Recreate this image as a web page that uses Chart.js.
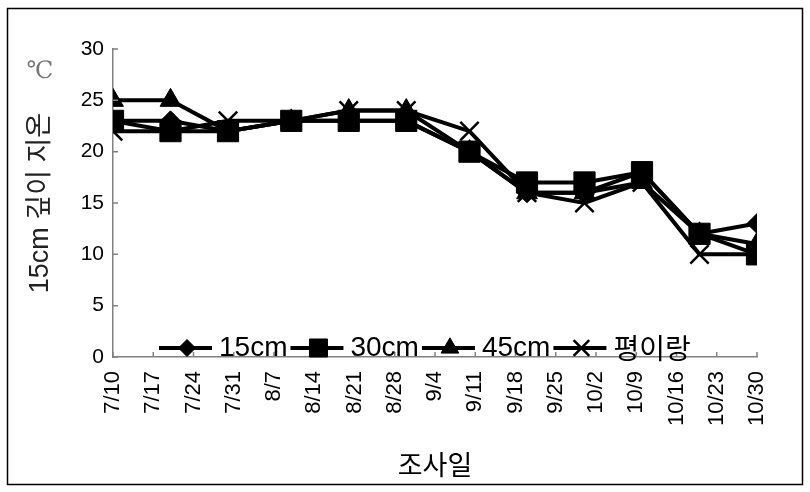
<!DOCTYPE html>
<html>
<head>
<meta charset="utf-8">
<script src="https://cdn.jsdelivr.net/npm/chart.js@4/dist/chart.umd.min.js"></script>
<style>
  html, body { margin: 0; padding: 0; background: #fff; }
  #wrap { width: 810px; height: 492px; }
</style>
</head>
<body>
<div id="wrap"><canvas id="graf"></canvas></div>
<script>
    // 조사일 (10일 간격)
    const dias = ['7/10', '7/20', '7/30', '8/10', '8/20', '8/30', '9/10', '9/20', '9/30', '10/10', '10/20', '10/30'];

    const s15 = [23, 23, 22, 23, 23, 23, 20, 16, 16, 18, 12, 13];
    const s30 = [23, 22, 22, 23, 23, 23, 20, 17, 17, 18, 12, 10];
    const s45 = [25, 25, 22, 23, 24, 24, 20, 16, 16, 17, 12, 11];
    const sPy = [22, 22, 23, 23, 24, 24, 22, 16, 15, 17, 10, 10];

    const nomes = ['15cm', '30cm', '45cm', '평이랑'];
    const yTicks = [0, 5, 10, 15, 20, 25, 30];

    // dia 0 = 7/10
    const base = new Date(2009, 6, 10);
    function diaNum(s) {
      const [m, d] = s.split('/').map(Number);
      return Math.round((new Date(2009, m - 1, d) - base) / 86400000);
    }
    function rotulo(n) {
      const d = new Date(base.getTime() + n * 86400000);
      return (d.getMonth() + 1) + '/' + d.getDate();
    }
    const pts = arr => arr.map((v, i) => ({ x: diaNum(dias[i]), y: v }));

    const estilos = [
      { pointStyle: 'rectRot', pointRadius: 10, pointBorderWidth: 1 },
      { pointStyle: 'rect', pointRadius: 15, pointBorderWidth: 1 },
      { pointStyle: 'triangle', pointRadius: 12, pointBorderWidth: 1 },
      { pointStyle: 'crossRot', pointRadius: 13, pointBorderWidth: 2.5 }
    ];
    const series = [s15, s30, s45, sPy];

    const latin = "'Liberation Sans', 'Noto Sans CJK KR', sans-serif";

    const extras = {
      id: 'extras',
      afterDraw(chart) {
        const ctx = chart.ctx;
        const xs = chart.scales.x, ys = chart.scales.y;
        const a = chart.chartArea;
        ctx.save();
        // marcas para dentro
        ctx.strokeStyle = '#808080';
        ctx.lineWidth = 1.5;
        ctx.beginPath();
        yTicks.forEach(v => {
          const y = ys.getPixelForValue(v);
          ctx.moveTo(a.left, y); ctx.lineTo(a.left + 5, y);
        });
        for (let n = 0; n <= 112; n += 7) {
          const x = xs.getPixelForValue(n);
          ctx.moveTo(x, a.bottom); ctx.lineTo(x, a.bottom - 5);
        }
        ctx.stroke();

        // legenda
        let lx = 159;
        const ly = 348;
        ctx.textBaseline = 'middle';
        nomes.forEach((nome, i) => {
          ctx.strokeStyle = '#000';
          ctx.lineWidth = 4;
          ctx.beginPath();
          ctx.moveTo(lx, ly); ctx.lineTo(lx + 53, ly);
          ctx.stroke();
          const e = estilos[i];
          ctx.fillStyle = '#000';
          ctx.lineWidth = e.pointBorderWidth;
          Chart.helpers.drawPoint(ctx, {
            pointStyle: e.pointStyle, radius: e.pointRadius * 0.85,
            borderWidth: e.pointBorderWidth, rotation: 0
          }, lx + 28, ly);
          lx += 60;
          ctx.font = i === 3 ? "28px 'Noto Sans CJK KR', sans-serif" : '28px ' + latin;
          ctx.fillStyle = '#000';
          ctx.textAlign = 'left';
          ctx.fillText(nome, lx, ly);
          lx += ctx.measureText(nome).width + 3;
        });

        // ℃
        ctx.font = "24px 'DejaVu Serif', serif";
        ctx.fillStyle = '#777';
        ctx.textAlign = 'center';
        ctx.fillText('℃', 40, 72);

        // moldura
        ctx.strokeStyle = '#000';
        ctx.lineWidth = 1.5;
        ctx.strokeRect(7.5, 8.5, 795, 476);
        ctx.restore();
      }
    };

    new Chart(document.getElementById('graf'), {
      type: 'line',
      data: {
        datasets: series.map((s, i) => Object.assign({
          label: nomes[i],
          data: pts(s),
          borderColor: '#000',
          backgroundColor: '#000',
          pointBackgroundColor: '#000',
          pointBorderColor: '#000',
          borderWidth: 4,
          tension: 0
        }, estilos[i]))
      },
      options: {
        responsive: true,
        maintainAspectRatio: false,
        animation: false,
        layout: { padding: { left: 0, top: 49, right: 53, bottom: 0 } },
        plugins: { legend: { display: false }, tooltip: { enabled: false } },
        scales: {
          x: {
            type: 'linear',
            min: 0, max: 112,
            afterFit: s => { s.height = 135; },
            grid: { display: false, drawTicks: false },
            border: { color: '#808080', width: 1.5 },
            ticks: {
              stepSize: 7, autoSkip: false, minRotation: 90, maxRotation: 90,
              padding: 14, color: '#000', font: { size: 22, family: latin },
              callback: v => rotulo(v)
            },
            title: {
              display: true, text: '조사일', color: '#000',
              font: { size: 27, family: "'Noto Sans CJK KR', sans-serif" },
              padding: { top: 0, bottom: 11 }
            }
          },
          y: {
            min: 0, max: 30,
            afterFit: s => { s.width = 113; },
            grid: { display: false, drawTicks: false },
            border: { color: '#808080', width: 1.5 },
            ticks: { stepSize: 5, padding: 9, color: '#000', font: { size: 21, family: latin } },
            title: {
              display: true, text: '15cm 깊이 지온', color: '#222',
              font: { size: 27, family: latin },
              padding: { top: 24, bottom: 0 }
            }
          }
        }
      },
      plugins: [extras]
    });
</script>
</body>
</html>
